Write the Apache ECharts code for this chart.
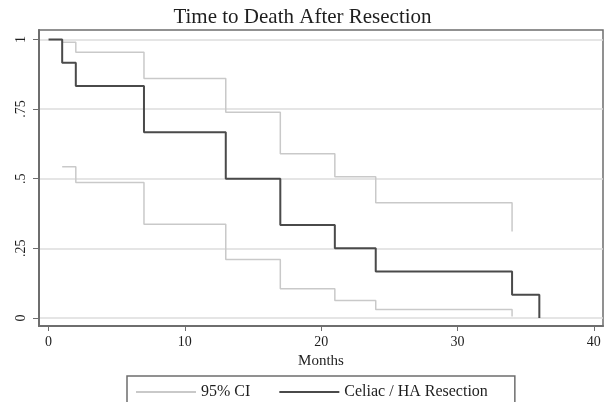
<!DOCTYPE html>
<html>
<head>
<meta charset="utf-8">
<script src="https://cdn.jsdelivr.net/npm/echarts@6/dist/echarts.min.js"></script>
<style>
  html, body { margin: 0; padding: 0; background: #ffffff; }
  #chart { width: 605px; height: 402px; }
</style>
</head>
<body>
<div id="chart"></div>
<script>
// Kaplan-Meier estimate: survival after Celiac / HA resection
const months = [0, 1, 2, 7, 13, 17, 21, 24, 34, 36];
const survival = [1, 0.9167, 0.8333, 0.6667, 0.5, 0.3333, 0.25, 0.1667, 0.0833, 0];

// 95% confidence band (defined from the first event onward)
const ciMonths = [1, 2, 7, 13, 17, 21, 24, 34];
const ciUpper = [0.99, 0.954, 0.86, 0.739, 0.59, 0.507, 0.414, 0.31];
const ciLower = [0.543, 0.486, 0.336, 0.21, 0.105, 0.063, 0.03, 0.005];

// Axis ticks
const xTicks = [0, 10, 20, 30, 40];
const yTicks = [0, 0.25, 0.5, 0.75, 1];
const yTickLabels = ['0', '.25', '.5', '.75', '1'];

const FONT = '"Liberation Serif", "DejaVu Serif", serif';
const FRAME = '#6e6e6e';
const CI_COLOR = '#c9c9c9';
const KM_COLOR = '#4a4a4a';

const pairs = (xs, ys) => xs.map((x, i) => [x, ys[i]]);

const chart = echarts.init(document.getElementById('chart'), null, { renderer: 'canvas' });

chart.setOption({
  backgroundColor: '#ffffff',
  animation: false,
  title: {
    text: 'Time to Death After Resection',
    left: 'center',
    top: 2,
    textStyle: { fontFamily: FONT, fontSize: 21, fontWeight: 'normal', color: '#1e1e1e' }
  },
  legend: {
    data: ['95% CI', 'Celiac / HA Resection'],
    left: 127,
    top: 376,
    padding: [8, 27, 8, 8],
    itemWidth: 60,
    itemHeight: 14,
    itemGap: 28,
    itemStyle: { opacity: 0 },
    borderColor: FRAME,
    borderWidth: 1.5,
    textStyle: { fontFamily: FONT, fontSize: 16, color: '#1e1e1e' }
  },
  grid: {
    left: 39,
    top: 30,
    right: 2,
    bottom: 76,
    containLabel: false,
    show: true,
    borderColor: FRAME,
    borderWidth: 1.5
  },
  xAxis: {
    type: 'value',
    min: -0.7,
    max: 40.67,
    name: 'Months',
    nameLocation: 'middle',
    nameGap: 26,
    nameTextStyle: { fontFamily: FONT, fontSize: 15, color: '#1e1e1e' },
    axisLine: { show: true, onZero: false, lineStyle: { color: FRAME, width: 2 } },
    axisTick: { show: true, length: 5, customValues: xTicks, lineStyle: { color: FRAME } },
    axisLabel: {
      customValues: xTicks,
      margin: 9,
      fontFamily: FONT,
      fontSize: 14,
      color: '#1e1e1e'
    },
    splitLine: { show: false }
  },
  yAxis: {
    type: 'value',
    min: -0.029,
    max: 1.034,
    axisLine: { show: true, onZero: false, lineStyle: { color: FRAME, width: 2 } },
    axisTick: { show: true, length: 6, customValues: yTicks, lineStyle: { color: FRAME } },
    axisLabel: {
      customValues: yTicks,
      rotate: 90,
      margin: 11,
      fontFamily: FONT,
      fontSize: 14,
      color: '#1e1e1e',
      formatter: (v) => yTickLabels[yTicks.indexOf(v)] ?? ''
    },
    splitLine: { show: true, lineStyle: { color: '#dcdcdc', width: 1.5 } }
  },
  series: [
    {
      name: '95% CI',
      type: 'line',
      step: 'end',
      symbol: 'none',
      data: pairs(ciMonths, ciUpper),
      lineStyle: { color: CI_COLOR, width: 1.5 },
      itemStyle: { color: CI_COLOR },
      z: 2
    },
    {
      name: '95% CI',
      type: 'line',
      step: 'end',
      symbol: 'none',
      data: pairs(ciMonths, ciLower),
      lineStyle: { color: CI_COLOR, width: 1.5 },
      itemStyle: { color: CI_COLOR },
      z: 2
    },
    {
      name: 'Celiac / HA Resection',
      type: 'line',
      step: 'end',
      symbol: 'none',
      data: pairs(months, survival),
      lineStyle: { color: KM_COLOR, width: 2 },
      itemStyle: { color: KM_COLOR },
      z: 3
    }
  ]
});
</script>
</body>
</html>
